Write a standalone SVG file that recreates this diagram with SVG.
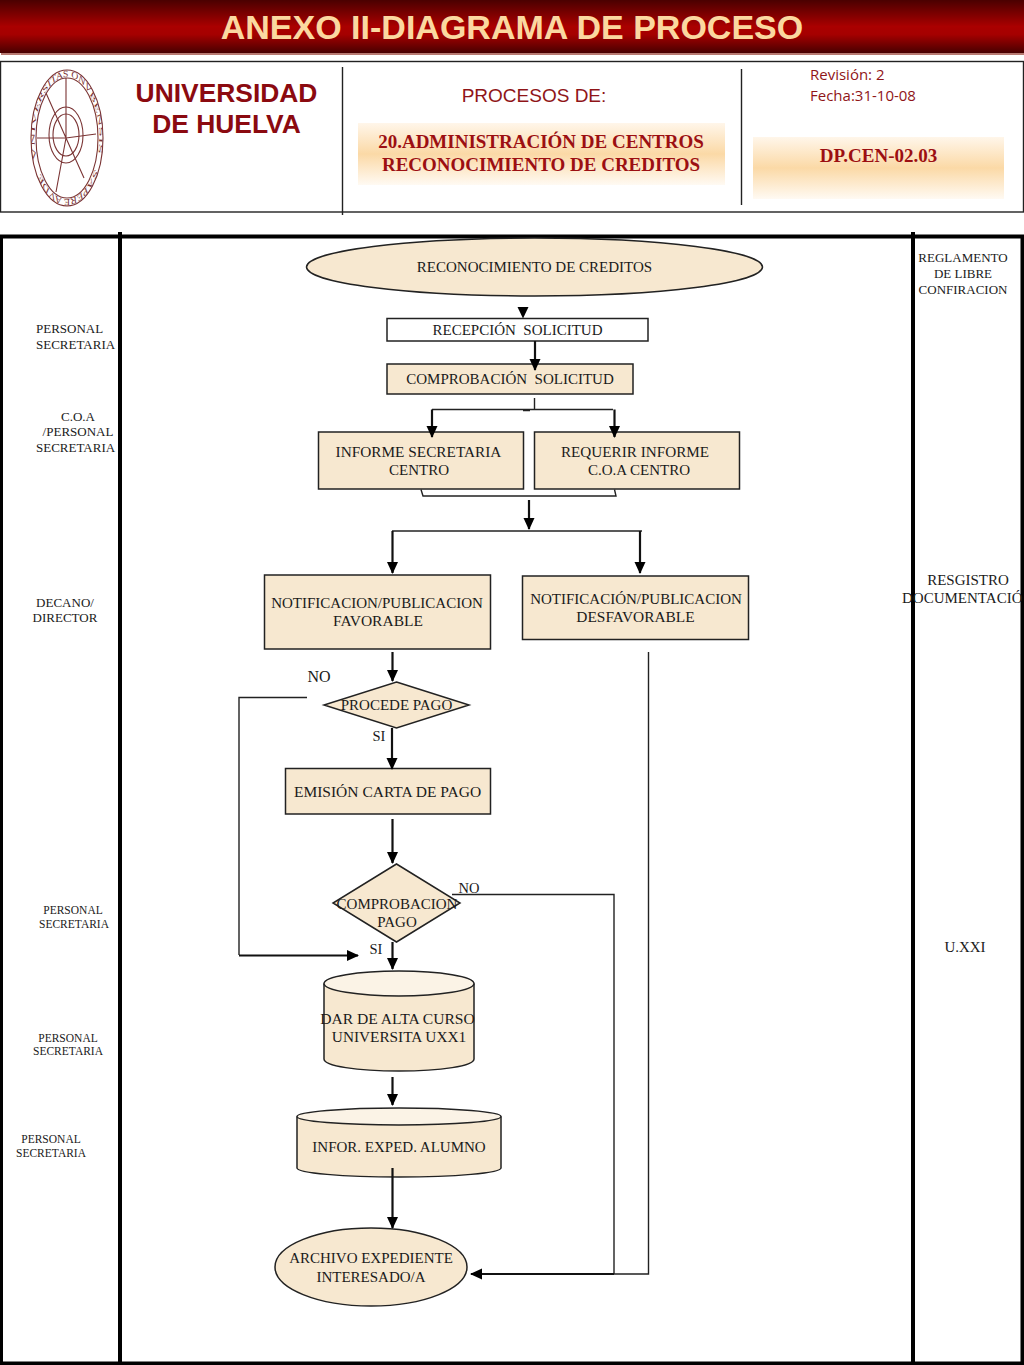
<svg xmlns="http://www.w3.org/2000/svg" width="1024" height="1365" viewBox="0 0 1024 1365">
<style>
.t{font-family:"Liberation Serif","Times New Roman",serif;fill:#1a1a1a;text-anchor:middle;white-space:pre}
.s15{font-size:15px}.s13{font-size:13px}.s11{font-size:11.5px}.s14{font-size:14.5px}
.n{fill:#f7e8d0;stroke:#222;stroke-width:1.5}
.top{fill:#fbf3e6}
.c{fill:none;stroke:#111;stroke-width:2.2}
.thin{fill:none;stroke:#222;stroke-width:1.4}
.lane{fill:none;stroke:#000;stroke-width:4}
.hd{fill:none;stroke:#222;stroke-width:1.4}
.logo{fill:none;stroke:#7a3434;stroke-width:1.1}
.lt{font-family:"Liberation Serif",serif;font-size:9.5px;fill:#7a3434}
.red{fill:#8b0a10}
.bs{font-family:"Liberation Serif",serif;font-weight:bold;font-size:19px;text-anchor:middle;fill:#9c0f12}
</style>
<defs>
<linearGradient id="band" x1="0" y1="0" x2="0" y2="1"><stop offset="0" stop-color="#4a0000"/><stop offset=".5" stop-color="#aa0000"/><stop offset=".65" stop-color="#a50000"/><stop offset="1" stop-color="#480000"/></linearGradient>
<linearGradient id="peach" x1="0" y1="0" x2="0" y2="1"><stop offset="0" stop-color="#fff6ea"/><stop offset=".5" stop-color="#fbd9a6"/><stop offset="1" stop-color="#fffaf3"/></linearGradient>
<marker id="a" markerUnits="userSpaceOnUse" markerWidth="13" markerHeight="12" refX="11" refY="6" orient="auto"><path d="M0,0.5 L12,6 L0,11.5 Z" fill="#000"/></marker>
<path id="ringTop" d="M-57.300,20.900 A61,61 0 1 1 57.300,20.900"/>
<path id="ringBot" d="M52.800,30.500 A61,61 0 0 1 -52.800,30.500"/>
</defs>

<g id="title-band">
<rect x="0" y="0" width="1024" height="53" fill="url(#band)"/>
<rect x="1" y="53" width="1023" height="2" fill="#b87a72"/>
<text x="512" y="39" font-family="Liberation Sans,Arial,sans-serif" font-weight="bold" font-size="34" text-anchor="middle" fill="#fbd8a0">ANEXO II-DIAGRAMA DE PROCESO</text>
</g>

<g id="header">
<rect x="0.5" y="61.5" width="1023" height="150.5" fill="#fff" stroke="#222" stroke-width="1.4"/>
<path class="hd" d="M342.5,67V215M741.5,69V205"/>
<g id="logo">
<ellipse class="logo" cx="67" cy="138" rx="36" ry="68"/>
<ellipse class="logo" cx="67" cy="138" rx="31" ry="60"/>
<ellipse class="logo" cx="66" cy="135" rx="17" ry="28"/>
<ellipse class="logo" cx="66" cy="135" rx="13" ry="21"/>
<path class="logo" d="M66,78V138M46,93L66,138L84,178M66,138L56,192"/>
<path class="logo" stroke-width="1.6" d="M37,138L66,138L96,134"/>
<g transform="translate(67,138) scale(0.53,1)">
<text class="lt"><textPath href="#ringTop" textLength="228" lengthAdjust="spacingAndGlyphs">VNIVERSITAS ONVBENSIS</textPath></text>
<text class="lt"><textPath href="#ringBot" textLength="122" lengthAdjust="spacingAndGlyphs">SAPERE AVDE</textPath></text>
</g>
</g>
<g font-family="Liberation Sans,Arial,sans-serif" font-weight="bold" font-size="26.400" text-anchor="middle" class="red">
<text x="226.500" y="102">UNIVERSIDAD</text>
<text x="226.500" y="133">DE HUELVA</text>
</g>
<text x="534" y="102" font-family="Liberation Sans,Arial,sans-serif" font-size="19" text-anchor="middle" fill="#8f1518">PROCESOS DE:</text>
<rect x="358" y="123" width="367" height="62" fill="url(#peach)"/>
<text class="bs" x="541" y="148">20.ADMINISTRACIÓN DE CENTROS</text>
<text class="bs" x="541" y="171">RECONOCIMIENTO DE CREDITOS</text>
<text x="810" y="80" font-family="Open Sans,sans-serif" font-size="15" fill="#8f1518">Revisión: 2</text>
<text x="810" y="101" font-family="Open Sans,sans-serif" font-size="15" fill="#8f1518">Fecha:31-10-08</text>
<rect x="753" y="137" width="251" height="62" fill="url(#peach)"/>
<text class="bs" x="878.500" y="162">DP.CEN-02.03</text>
</g>

<g id="lanes">
<path class="lane" d="M0,236.500H1024"/>
<path class="lane" d="M120,232V1365"/>
<path class="lane" d="M913,232V1365"/>
<path class="lane" stroke-width="3" d="M1,236V1365"/>
<path class="lane" stroke-width="3" d="M1022.500,236V1365"/>
<path class="lane" stroke-width="3" d="M0,1363.500H1024"/>
</g>

<g id="lane-labels">
<text class="t s13" x="36" y="333" style="text-anchor:start">PERSONAL</text>
<text class="t s13" x="36" y="349" style="text-anchor:start">SECRETARIA</text>
<text class="t s13" x="78" y="421">C.O.A</text>
<text class="t s13" x="78" y="436">/PERSONAL</text>
<text class="t s13" x="36" y="452" style="text-anchor:start">SECRETARIA</text>
<text class="t s13" x="65" y="607">DECANO/</text>
<text class="t s13" x="65" y="622">DIRECTOR</text>
<text class="t s11" x="73" y="914">PERSONAL</text>
<text class="t s11" x="74" y="928">SECRETARIA</text>
<text class="t s11" x="68" y="1042">PERSONAL</text>
<text class="t s11" x="68" y="1055">SECRETARIA</text>
<text class="t s11" x="51" y="1143">PERSONAL</text>
<text class="t s11" x="51" y="1157">SECRETARIA</text>
<text class="t s13" x="963" y="262">REGLAMENTO</text>
<text class="t s13" x="963" y="278">DE LIBRE</text>
<text class="t s13" x="963" y="294">CONFIRACION</text>
<text class="t s15" x="968" y="585">RESGISTRO</text>
<text class="t s15" x="902" y="603" style="text-anchor:start">DOCUMENTACIÓ</text>
<text class="t s15" x="965" y="952">U.XXI</text>
</g>

<g id="nodes">
<g id="n-inicio"><ellipse class="n" cx="534.500" cy="267" rx="228" ry="29"/><text class="t" style="font-size:15px" x="534.500" y="272">RECONOCIMIENTO DE CREDITOS</text></g>
<g id="n-recepcion"><rect x="387" y="318.500" width="261" height="22.500" fill="#fff" stroke="#222" stroke-width="1.500"/><text class="t s15" x="517.500" y="335">RECEPCIÓN  SOLICITUD</text></g>
<g id="n-comprobacion"><rect class="n" x="387" y="364" width="246" height="30"/><text class="t s15" x="510" y="384">COMPROBACIÓN  SOLICITUD</text></g>
<g id="n-informe"><rect class="n" x="318.500" y="432" width="205" height="57"/><text class="t" style="font-size:15.300px" x="418.500" y="457">INFORME SECRETARIA</text><text class="t s15" x="419" y="475">CENTRO</text></g>
<g id="n-requerir"><rect class="n" x="534.500" y="432" width="205" height="57"/><text class="t" style="font-size:15.200px" x="635" y="457">REQUERIR INFORME</text><text class="t s15" x="639" y="475">C.O.A CENTRO</text></g>
<g id="n-favorable"><rect class="n" x="264.500" y="575" width="226" height="74"/><text class="t s15" x="377" y="608">NOTIFICACION/PUBLICACION</text><text class="t" style="font-size:15.500px" x="378" y="626">FAVORABLE</text></g>
<g id="n-desfavorable"><rect class="n" x="522.500" y="576" width="226" height="63.500"/><text class="t s15" x="636" y="604">NOTIFICACIÓN/PUBLICACION</text><text class="t" style="font-size:15.400px" x="635.500" y="622">DESFAVORABLE</text></g>
<g id="n-procede"><path class="n" d="M396.500,682L469,705L396.500,728L324,705Z"/><text class="t s15" x="396.500" y="710">PROCEDE PAGO</text></g>
<g id="n-emision"><rect class="n" x="285.500" y="768.500" width="205" height="45.500"/><text class="t" style="font-size:15.500px" x="387.500" y="797">EMISIÓN CARTA DE PAGO</text></g>
<g id="n-comprobacion-pago"><path class="n" d="M396.500,864L460,903L396.500,942L333,903Z"/><text class="t s15" x="397" y="909">COMPROBACION</text><text class="t s15" x="397" y="927">PAGO</text></g>
<g id="n-alta"><path class="n" d="M324,983.500V1059C324,1066 357,1071 399,1071C441,1071 474,1066 474,1059V983.500"/><ellipse class="n top" cx="399" cy="983.500" rx="75" ry="12.500"/><text class="t" style="font-size:15.600px" x="397.500" y="1024">DAR DE ALTA CURSO</text><text class="t" style="font-size:15.300px" x="399" y="1042">UNIVERSITA UXX1</text></g>
<g id="n-expediente"><path class="n" d="M297,1116.500V1168C297,1173 343,1177 399,1177C455,1177 501,1173 501,1168V1116.500"/><ellipse class="n top" cx="399" cy="1116.500" rx="102" ry="8.500"/><text class="t s15" x="399" y="1152">INFOR. EXPED. ALUMNO</text></g>
<g id="n-archivo"><ellipse class="n" cx="371" cy="1267" rx="96" ry="39"/><text class="t s15" x="371" y="1263">ARCHIVO EXPEDIENTE</text><text class="t s15" x="371" y="1282">INTERESADO/A</text></g>
</g>

<g id="connectors">
<path fill="#000" d="M517.500,307H528.500L523,318.500Z"/>
<path class="c" marker-end="url(#a)" d="M535,341V370"/>
<path class="thin" d="M534.500,398V409.500M432,409.500H613M523,410.500H530"/>
<path class="c" marker-end="url(#a)" d="M432,409.500V437"/>
<path class="c" marker-end="url(#a)" d="M614.500,409.500V437"/>
<path class="thin" d="M421,489.500L423,496H616L614.500,489.500"/>
<path class="c" marker-end="url(#a)" d="M529,500V529"/>
<path class="thin" d="M392,531H642"/>
<path class="c" marker-end="url(#a)" d="M392.500,531V573"/>
<path class="c" marker-end="url(#a)" d="M640,531V573"/>
<path class="c" marker-end="url(#a)" d="M392.500,652V681"/>
<path class="c" marker-end="url(#a)" d="M392,728V769"/>
<path class="c" marker-end="url(#a)" d="M392.500,819V863"/>
<path class="c" marker-end="url(#a)" d="M392.500,942V969"/>
<path class="c" marker-end="url(#a)" d="M392.500,1077V1105"/>
<path class="c" marker-end="url(#a)" d="M392.500,1168V1228"/>
<path class="thin" d="M307,697.500H239V955"/>
<path class="c" marker-end="url(#a)" d="M239,955.500H358"/>
<path class="thin" d="M452,894.500H614V1274"/>
<path class="thin" d="M648.500,652V1274H614"/>
<path class="c" marker-end="url(#a)" d="M614,1274H471"/>
<g id="connector-labels">
<text class="t" style="font-size:16px" x="319" y="682">NO</text>
<text class="t s14" x="379" y="741">SI</text>
<text class="t s14" x="469" y="893">NO</text>
<text class="t s14" x="376" y="954">SI</text>
</g>
</g>
</svg>
